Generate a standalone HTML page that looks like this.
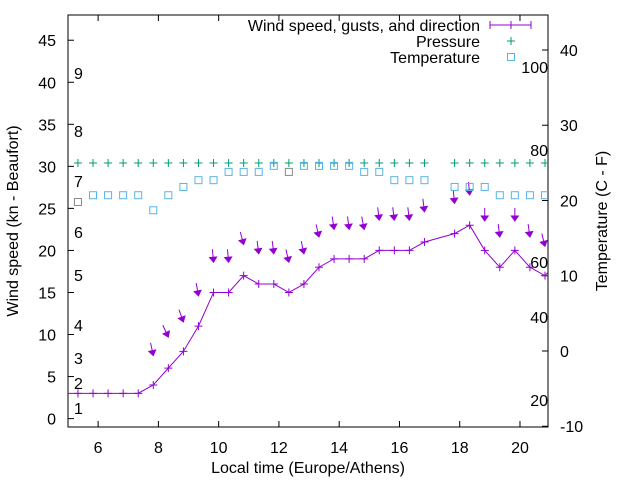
<!DOCTYPE html>
<html><head><meta charset="utf-8"><style>
html,body{margin:0;padding:0;background:#fff}
svg{display:block;font-family:"Liberation Sans",sans-serif}
</style></head><body>
<svg id="chart" width="640" height="480" viewBox="0 0 640 480">
<defs><clipPath id="plotclip"><rect x="68" y="15" width="480" height="412"/></clipPath></defs>
<g id="axes"></g>
<g id="beaufort"></g>
<g id="series" clip-path="url(#plotclip)"></g>
<g id="legend"></g>
</svg>
<script>
const times = [4.83,5.33,5.83,6.33,6.83,7.33,7.83,8.33,8.83,9.33,9.83,10.33,10.83,11.33,11.83,12.33,12.83,13.33,13.83,14.33,14.83,15.33,15.83,16.33,16.83,17.33,17.83,18.33,18.83,19.33,19.83,20.33,20.83,21.33];
const windSpeed = [3,3,3,3,3,3,4,6,8,11,15,15,17,16,16,15,16,18,19,19,19,20,20,20,21,null,22,23,20,18,20,18,17,19];
const gusts = [null,null,null,null,null,null,7.5,9.7,11.5,14.6,18.6,18.6,20.7,19.6,19.6,18.6,19.6,21.6,22.5,22.5,22.5,23.6,23.6,23.6,24.6,null,25.6,26.6,23.5,21.6,23.5,21.6,20.5,null];
const gustDir = [0,0,0,0,0,0,12,25,20,10,5,5,15,7,7,13,12,13,8,7,11,7,7,7,7,0,6,5,0,7,0,8,14,0];
const pressure = [null,1013,1013,1013,1013,1013,1013,1013,1013,1013,1013,1013,1013,1013,1013,1013,1013,1013,1013,1013,1013,1013,1013,1013,1013,null,1013,1013,1013,1013,1013,1013,1013,null];
const temperature = [null,19.8,20.7,20.7,20.7,20.7,18.7,20.7,21.8,22.7,22.7,23.8,23.8,23.8,24.6,23.8,24.6,24.6,24.6,24.6,23.8,23.8,22.7,22.7,22.7,null,21.8,21.8,21.8,20.7,20.7,20.7,20.7,null];
const xTicks = [6,8,10,12,14,16,18,20];
const yTicks = [0,5,10,15,20,25,30,35,40,45];
const y2Ticks = [-10,0,10,20,30,40];
const beaufortLabels = [["1",408],["2",383],["3",358],["4",325],["5",275],["6",232],["7",181],["8",131],["9",73]];
const fahrLabels = [["20",400],["40",317],["60",262],["80",150],["100",67]];

const L=68,R=548,T=15,B=427,FS=16;
const X = t => L + (t-5.0)*(R-L)/(20.93-5.0);
const Y = v => T + (48-v)*(B-T)/49;
const Y2 = c => B - (c+10.1)*(B-T)/(44.65+10.1);
const YP = p => 163 - (p-1013)*5;
const NS="http://www.w3.org/2000/svg";
function el(tag,attrs,parent,text){const e=document.createElementNS(NS,tag);for(const k in attrs)e.setAttribute(k,attrs[k]);if(text!==undefined)e.textContent=text;parent.appendChild(e);return e;}
const axes=document.getElementById('axes');
const border=el('rect',{x:L,y:T,width:R-L,height:B-T,fill:'none',stroke:'#000','stroke-width':1},axes);


xTicks.forEach(t=>{const x=X(t);
 const tk=el('path',{d:`M${x},${B}v-6M${x},${T}v6`,stroke:'#000'},axes);
 
 
 const lb=el('text',{x:x,y:453,'text-anchor':'middle','font-size':FS},axes,String(t));
 
 });
yTicks.forEach(v=>{const y=Y(v);
 const tk=el('path',{d:`M${L},${y}h6`,stroke:'#000'},axes);
 
 
 const lb=el('text',{x:56,y:y+6,'text-anchor':'end','font-size':FS},axes,String(v));
 
 });
y2Ticks.forEach(c=>{const y=Y2(c);
 const tk=el('path',{d:`M${R},${y}h-6`,stroke:'#000'},axes);
 
 
 const lb=el('text',{x:560,y:y+6,'text-anchor':'start','font-size':FS},axes,String(c));
 
 });
let t1=el('text',{x:308,y:473,'text-anchor':'middle','font-size':FS},axes,'Local time (Europe/Athens)');


let t2=el('text',{x:0,y:0,'text-anchor':'middle','font-size':FS,transform:'translate(18,221) rotate(-90)'},axes,'Wind speed (kn - Beaufort)');


let t3=el('text',{x:0,y:0,'text-anchor':'middle','font-size':FS,transform:'translate(607,221) rotate(-90)'},axes,'Temperature (C - F)');


const bf=document.getElementById('beaufort');
beaufortLabels.forEach(([s,y])=>{const e=el('text',{x:74,y:y+6,'font-size':FS},bf,s);
 
 });
fahrLabels.forEach(([s,y])=>{const e=el('text',{x:548,y:y+6,'text-anchor':'end','font-size':FS},bf,s);
 
 });

const S=document.getElementById('series');
const WC='#9400d3',PC='#009e73',TC='#56b4e9';
let d='';
times.forEach((t,i)=>{const v=windSpeed[i];if(v===null)return;d+=(d?'L':'M')+X(t)+','+Y(v);});
const wl=el('path',{d:d,fill:'none',stroke:WC,'stroke-width':1},S);


times.forEach((t,i)=>{const v=windSpeed[i];if(v===null)return;const x=X(t),y=Y(v);
 const m=el('path',{d:`M${x-4},${y}h8M${x},${y-4}v8`,stroke:WC},S);
 
 });
times.forEach((t,i)=>{const g=gusts[i];if(g===null)return;const x=X(t),y=Y(g);
 const a=gustDir[i]*Math.PI/180,len=13;
 const dx=Math.sin(a),dy=Math.cos(a);
 const g2=el('g',{},S);
 
 
 el('path',{d:`M${x-dx*len},${y-dy*len}L${x},${y}`,stroke:WC,'stroke-width':1},g2);
 const hl=5,hw=3.5;const bx=x-dx*hl,by=y-dy*hl;
 el('path',{d:`M${x},${y}L${bx+dy*hw},${by-dx*hw}L${bx-dy*hw},${by+dx*hw}Z`,fill:WC,stroke:WC},g2);});
times.forEach((t,i)=>{const p=pressure[i];if(p===null)return;const x=X(t),y=YP(p);
 const m=el('path',{d:`M${x-4},${y}h8M${x},${y-4}v8`,stroke:PC},S);
 
 });
times.forEach((t,i)=>{const c=temperature[i];if(c===null)return;const x=X(t),y=Y2(c);
 const m=el('rect',{x:x-3.5,y:y-3.5,width:7,height:7,fill:'none',stroke:(i===1||i===15)?'#888':TC},S);
 
 });
const LG=document.getElementById('legend');
const lw=el('g',{},LG);


el('text',{x:480,y:31,'text-anchor':'end','font-size':FS},lw,'Wind speed, gusts, and direction');
el('path',{d:'M490,25h41M490,21v8M531,21v8M511,21v8',stroke:WC},lw);
const lp=el('g',{},LG);


el('text',{x:480,y:47,'text-anchor':'end','font-size':FS},lp,'Pressure');
el('path',{d:'M507,41h8M511,37v8',stroke:PC},lp);
const lt=el('g',{},LG);


el('text',{x:480,y:63,'text-anchor':'end','font-size':FS},lt,'Temperature');
el('rect',{x:507.5,y:53.5,width:7,height:7,fill:'none',stroke:TC},lt);
</script>
</body></html>
